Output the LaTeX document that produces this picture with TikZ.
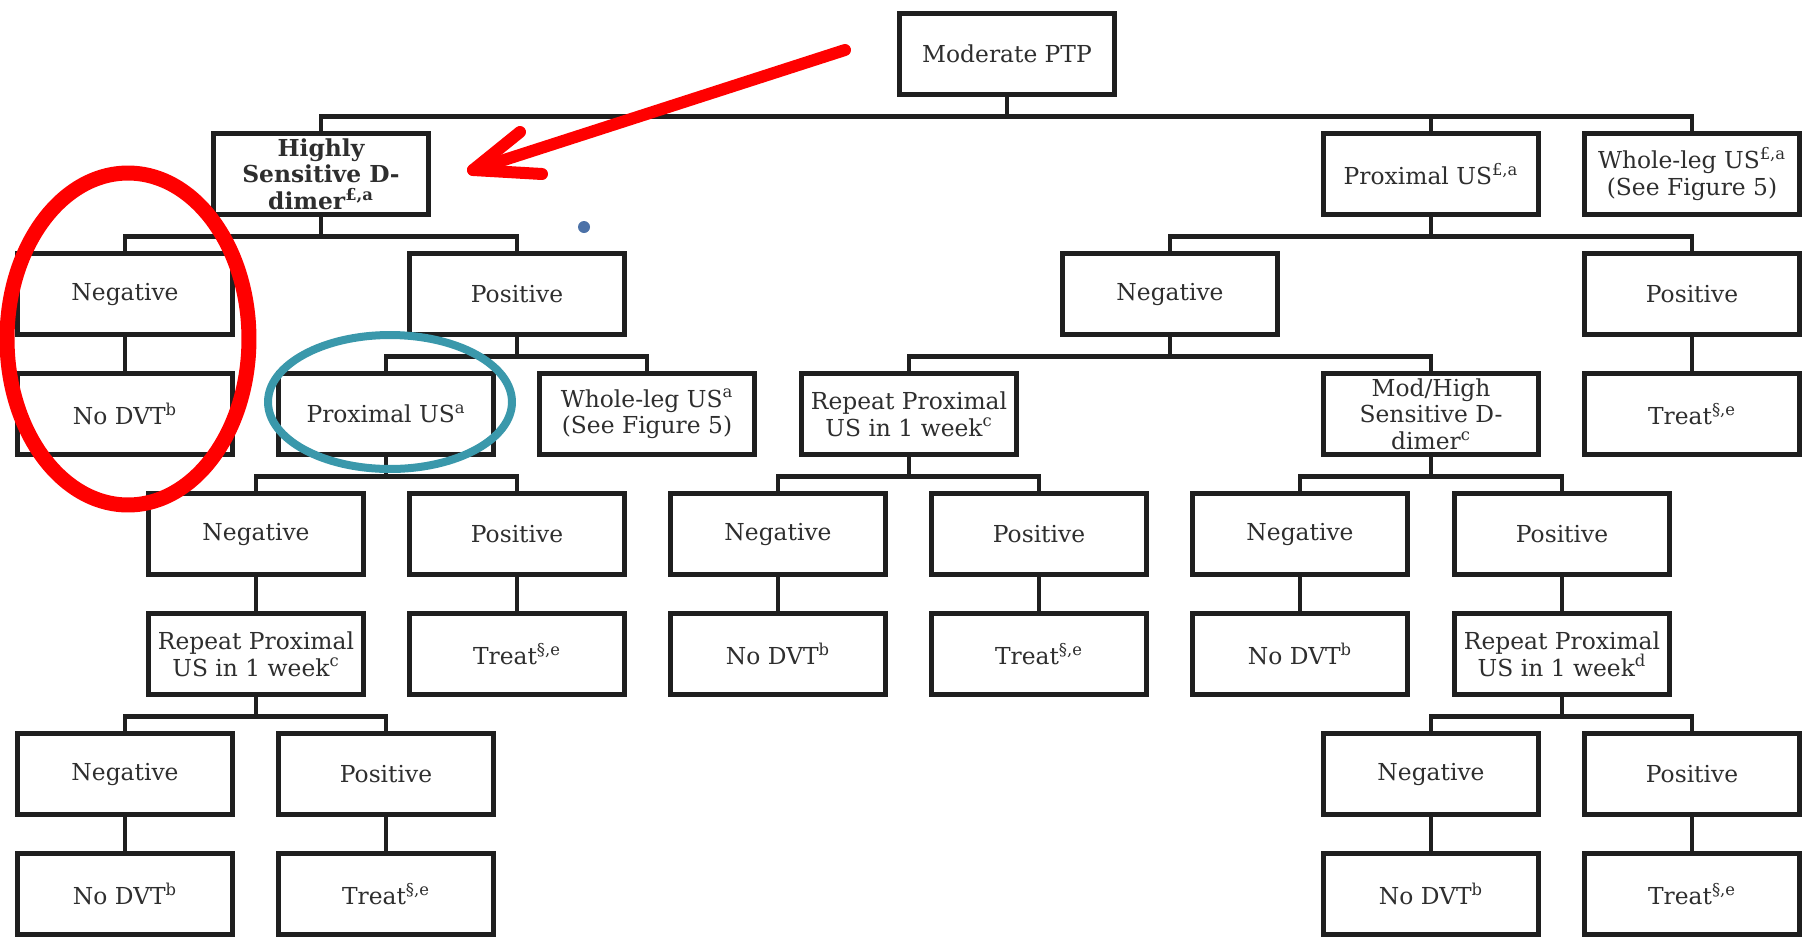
\documentclass[tikz,border=0pt]{standalone}
\usepackage{fontspec}
\setmainfont{DejaVu Serif}
\usetikzlibrary{calc}

\definecolor{ringred}{HTML}{FF0000}
\definecolor{ringteal}{HTML}{3A98AB}
\definecolor{dotblue}{HTML}{4C72A8}
\definecolor{inkgray}{HTML}{2E2E2E}

\begin{document}
\begin{tikzpicture}[
    x=0.02cm, y=-0.02cm,
    box/.style={draw=black!88, line width=0.1cm, fill=white, minimum width=4.3cm, minimum height=1.62cm,
      inner sep=0pt, align=center, text=inkgray, font=\fontsize{13.3}{15.2}\selectfont},
    link/.style={draw=black!88, line width=0.09cm},
    redpen/.style={draw=ringred, line width=0.24cm, line cap=round, line join=round}
  ]
\useasboundingbox (0,0) rectangle (1805,937);

% Root and first split
\node[box] (ptp) at (1007,54) {Moderate PTP};
\node[box, font=\fontsize{13.3}{15.2}\selectfont\bfseries] (hsd) at (321,174) {Highly\\Sensitive D-\\dimer\textsuperscript{£,a}};
\node[box] (pus) at (1431,174) {Proximal US\textsuperscript{£,a}};
\node[box] (wleg) at (1692,174) {Whole-leg US\textsuperscript{£,a}\\(See Figure 5)};

% Second level
\node[box] (hsdneg) at (125,294) {Negative};
\node[box] (hsdpos) at (517,294) {Positive};
\node[box] (pusneg) at (1170,294) {Negative};
\node[box] (puspos) at (1692,294) {Positive};

% Third level
\node[box] (hsdnodvt) at (125,414) {No DVT\textsuperscript{b}};
\node[box] (pusa) at (386,414) {Proximal US\textsuperscript{a}};
\node[box] (wlega) at (647,414) {Whole-leg US\textsuperscript{a}\\(See Figure 5)};
\node[box] (repc) at (909,414) {Repeat Proximal\\US in 1 week\textsuperscript{c}};
\node[box] (mhd) at (1431,414) {Mod/High\\Sensitive D-\\dimer\textsuperscript{c}};
\node[box] (pustreat) at (1692,414) {Treat\textsuperscript{§,e}};

% Fourth level
\node[box] (pusaneg) at (256,534) {Negative};
\node[box] (pusapos) at (517,534) {Positive};
\node[box] (repcneg) at (778,534) {Negative};
\node[box] (repcpos) at (1039,534) {Positive};
\node[box] (mhdneg) at (1300,534) {Negative};
\node[box] (mhdpos) at (1562,534) {Positive};

% Fifth level
\node[box] (pusarep) at (256,654) {Repeat Proximal\\US in 1 week\textsuperscript{c}};
\node[box] (pusatreat) at (517,654) {Treat\textsuperscript{§,e}};
\node[box] (repcnodvt) at (778,654) {No DVT\textsuperscript{b}};
\node[box] (repctreat) at (1039,654) {Treat\textsuperscript{§,e}};
\node[box] (mhdnodvt) at (1300,654) {No DVT\textsuperscript{b}};
\node[box] (mhdrep) at (1562,654) {Repeat Proximal\\US in 1 week\textsuperscript{d}};

% Sixth and seventh level
\node[box] (lrepneg) at (125,774) {Negative};
\node[box] (lreppos) at (386,774) {Positive};
\node[box] (rrepneg) at (1431,774) {Negative};
\node[box] (rreppos) at (1692,774) {Positive};
\node[box] (lrepnodvt) at (125,894) {No DVT\textsuperscript{b}};
\node[box] (lreptreat) at (386,894) {Treat\textsuperscript{§,e}};
\node[box] (rrepnodvt) at (1431,894) {No DVT\textsuperscript{b}};
\node[box] (rreptreat) at (1692,894) {Treat\textsuperscript{§,e}};

% Connectors
\draw[link] (ptp.south) -- ++(0,19.5) coordinate (topbar);
\draw[link] (hsd.north) |- (topbar) -| (wleg.north);
\draw[link] (pus.north) -- (pus.north |- topbar);
\foreach \p/\a/\b in {hsd/hsdneg/hsdpos, pus/pusneg/puspos, hsdpos/pusa/wlega, pusneg/repc/mhd,
    pusa/pusaneg/pusapos, repc/repcneg/repcpos, mhd/mhdneg/mhdpos,
    pusarep/lrepneg/lreppos, mhdrep/rrepneg/rreppos} {
  \draw[link] (\p.south) -- ++(0,19.5) -| (\a.north);
  \draw[link] (\p.south) -- ++(0,19.5) -| (\b.north);
}
\foreach \p/\c in {hsdneg/hsdnodvt, puspos/pustreat, pusaneg/pusarep, pusapos/pusatreat,
    repcneg/repcnodvt, repcpos/repctreat, mhdneg/mhdnodvt, mhdpos/mhdrep,
    lrepneg/lrepnodvt, lreppos/lreptreat, rrepneg/rrepnodvt, rreppos/rreptreat} {
  \draw[link] (\p.south) -- (\c.north);
}

% Hand-drawn marks
\draw[ringred, line width=0.3cm] (128,339) ellipse [x radius=2.42cm, y radius=3.32cm];
\draw[ringteal, line width=0.16cm] (390,402) ellipse [x radius=2.44cm, y radius=1.34cm];
\fill[dotblue] (584,227) circle [radius=0.12cm];

\coordinate (arrtail) at (845,50);
\coordinate (arrtip) at (473,170);
\coordinate (arrup) at (520,132);
\coordinate (arrlow) at (542,174);
\draw[redpen] (arrtail) -- (arrtip);
\draw[redpen] (arrup) -- (arrtip) -- (arrlow);

\end{tikzpicture}
\end{document}
